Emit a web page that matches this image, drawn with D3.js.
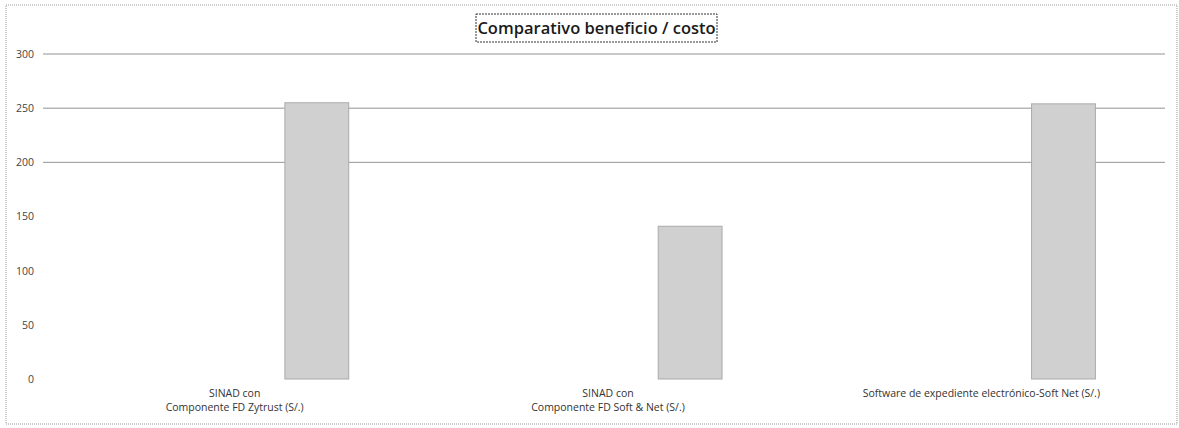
<!DOCTYPE html>
<html>
<head>
<meta charset="utf-8">
<script src="https://cdn.jsdelivr.net/npm/d3@7"></script>
<style>
	body { margin: 0; background: #fff; }
	text { font-family: "Open Sans", sans-serif; }
</style>
</head>
<body>
<svg width="1179" height="428"></svg>
<script>
const categories = [
	['SINAD con', 'Componente FD Zytrust (S/.)'],
	['SINAD con', 'Componente FD Soft & Net (S/.)'],
	['Software de expediente electrónico-Soft Net (S/.)']
];
const values = [255, 141, 254];
const yTicks = [0, 50, 100, 150, 200, 250, 300];
const title = 'Comparativo beneficio / costo';

const svg = d3.select('svg');

// outer chart frame
svg.append('rect')
	.attr('x', 6).attr('y', 5)
	.attr('width', 1171).attr('height', 419)
	.attr('fill', 'none')
	.attr('stroke', '#999')
	.attr('stroke-dasharray', '1,1');

const x = d3.scaleBand()
	.domain(d3.range(categories.length))
	.range([48, 1168]);

const y = d3.scaleLinear()
	.domain([0, 300])
	.range([379, 54]);

// gridlines (only the upper ones survive in the scan)
svg.append('g')
	.selectAll('line')
	.data(yTicks.filter(d => d >= 200))
	.join('line')
	.attr('x1', 43)
	.attr('x2', 1165)
	.attr('y1', d => y(d))
	.attr('y2', d => y(d))
	.attr('stroke', '#777')
	.attr('stroke-width', 0.8);

const yAxis = svg.append('g')
	.attr('transform', 'translate(42,0)')
	.call(d3.axisLeft(y).tickValues(yTicks).tickSize(0).tickPadding(8));
yAxis.select('.domain').remove();
yAxis.selectAll('text')
	.attr('fill', '#444')
	.style('font-size', '10.5px');

// bars sit on the right side of each category slot
const bw = x.bandwidth();
svg.append('g')
	.selectAll('rect')
	.data(values)
	.join('rect')
	.attr('x', (d, i) => x(i) + bw * 0.5 + bw * 0.22 - bw * 0.0855)
	.attr('y', d => y(d))
	.attr('width', bw * 0.171)
	.attr('height', d => y(0) - y(d))
	.attr('fill', '#d0d0d0')
	.attr('stroke', '#aaa')
	.attr('stroke-width', 1);

const labels = svg.append('g')
	.selectAll('text')
	.data(categories)
	.join('text')
	.attr('x', (d, i) => x(i) + bw / 2)
	.attr('y', 397)
	.attr('text-anchor', 'middle')
	.attr('fill', '#333')
	.style('font-size', '10.5px');
labels.selectAll('tspan')
	.data(d => d)
	.join('tspan')
	.attr('x', function () { return d3.select(this.parentNode).attr('x'); })
	.attr('dy', (d, i) => i === 0 ? 0 : 14)
	.text(d => d);

// title with its box
svg.append('rect')
	.attr('x', 476).attr('y', 14)
	.attr('width', 241).attr('height', 28)
	.attr('fill', '#fff')
	.attr('stroke', '#333')
	.attr('stroke-dasharray', '2,1');
svg.append('text')
	.attr('x', 596.5)
	.attr('y', 34)
	.attr('text-anchor', 'middle')
	.attr('fill', '#1a1a1a')
	.style('font-size', '16.5px')
	.style('font-weight', 600)
	.text(title);
</script>
</body>
</html>
